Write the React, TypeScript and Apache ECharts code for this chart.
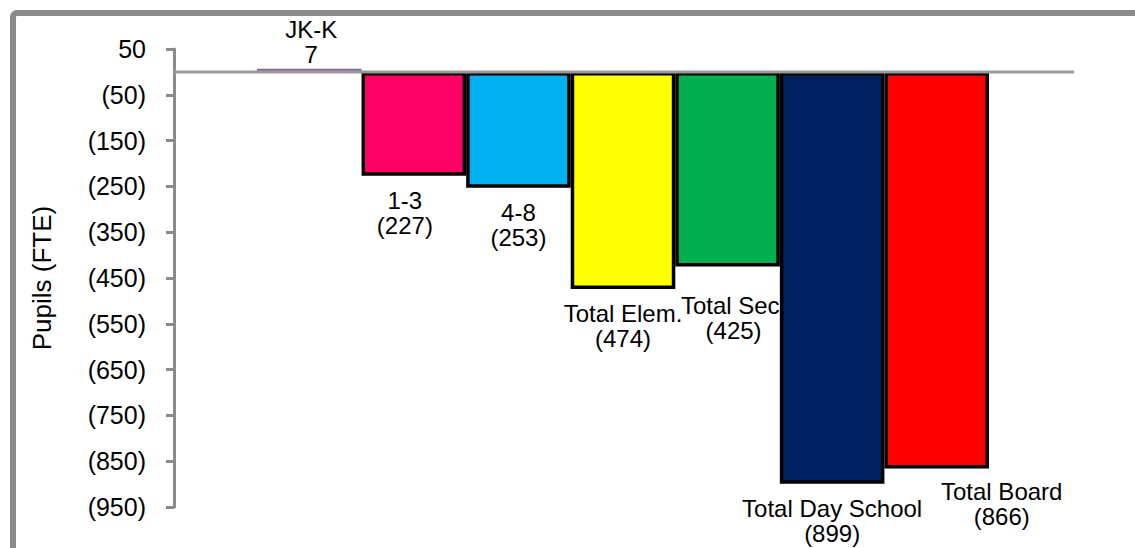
import React, { useEffect, useRef } from "react";
import * as echarts from "echarts";

const categories = ["JK-K", "1-3", "4-8", "Total Elem.", "Total Sec.", "Total Day School", "Total Board"];
const values = [7, -227, -253, -474, -425, -899, -866];
const barColors = ["#7F6AA0", "#FF0066", "#00B0F0", "#FFFF00", "#00B050", "#002060", "#FF0000"];
const tickLabels = ["50", "(50)", "(150)", "(250)", "(350)", "(450)", "(550)", "(650)", "(750)", "(850)", "(950)"];
const labelOffsets: [number, number][] = [[2, 10], [-9, 0], [0, 0], [0, 0], [6, 14], [0, 0], [65, -2]];
const zeroLine: [number, number][] = [[0, 0], [1, 0]];

const Y_MIN = -950;
const Y_MAX = 50;
const FONT = "'Liberation Sans', Arial, 'DejaVu Sans', sans-serif";

function fmt(v: number): string {
  return v < 0 ? `(${Math.abs(v)})` : `${v}`;
}

export default function App() {
  const ref = useRef<HTMLDivElement>(null);
  useEffect(() => {
    if (!ref.current) return;
    const chart = echarts.init(ref.current, null, { renderer: "svg" });
    const option = {
      animation: false,
      backgroundColor: "#ffffff",
      textStyle: { fontFamily: FONT },
      graphic: [
        {
          type: "rect",
          shape: { x: 13, y: 13, width: 1300, height: 700, r: 4 },
          style: { fill: "none", stroke: "#8a8a8a", lineWidth: 6 },
          silent: true,
          z: 10,
        },
      ],
      grid: [
        { left: 257, right: 146, top: 49, bottom: 41, containLabel: false, outerBoundsMode: "none" },
        { left: 174, right: 61, top: 49, bottom: 41, containLabel: false, outerBoundsMode: "none" },
      ],
      xAxis: [
        { type: "category", gridIndex: 0, data: categories, show: false },
        {
          type: "value",
          gridIndex: 1,
          min: 0,
          max: 1,
          show: false,
        },
      ],
      yAxis: [
        { type: "value", gridIndex: 0, min: Y_MIN, max: Y_MAX, show: false },
        { type: "value", gridIndex: 1, min: Y_MIN, max: Y_MAX, show: false, position: "right" },
        {
          type: "category",
          gridIndex: 1,
          position: "left",
          data: tickLabels,
          inverse: true,
          boundaryGap: false,
          name: "Pupils (FTE)",
          nameLocation: "middle",
          nameGap: 119,
          nameRotate: 90,
          nameTextStyle: { fontSize: 26, color: "#000", fontFamily: FONT },
          axisLine: { show: true, onZero: false, lineStyle: { color: "#8a8a8a", width: 3 } },
          axisTick: { show: true, inside: false, length: 8, lineStyle: { color: "#8a8a8a", width: 3 } },
          axisLabel: { show: true, margin: 28, fontSize: 25, color: "#000", fontFamily: FONT, interval: 0 },
          splitLine: { show: false },
        },
      ],
      series: [
        {
          type: "bar",
          xAxisIndex: 0,
          yAxisIndex: 0,
          barCategoryGap: "0%",
          z: 2,
          data: values.map((v, i) => ({
            value: v,
            itemStyle: {
              color: barColors[i],
              borderColor: v >= 0 ? barColors[i] : "#000000",
              borderWidth: v >= 0 ? 0 : 3.5,
            },
            label: {
              position: v >= 0 ? "top" : "bottom",
              offset: labelOffsets[i],
            },
          })),
          label: {
            show: true,
            distance: 12,
            fontSize: 24,
            lineHeight: 25,
            color: "#000",
            fontFamily: FONT,
            formatter: (p: any) => `${p.name}\n${fmt(p.value)}`,
          },
        },
        {
          type: "line",
          xAxisIndex: 1,
          yAxisIndex: 1,
          z: 5,
          data: zeroLine,
          symbol: "none",
          silent: true,
          lineStyle: { color: "#999999", width: 3 },
        },
      ],
    };
    chart.setOption(option as any);
    return () => chart.dispose();
  }, []);
  return <div ref={ref} style={{ position: "fixed", left: 0, top: 0, width: 1135, height: 548 }} />;
}
